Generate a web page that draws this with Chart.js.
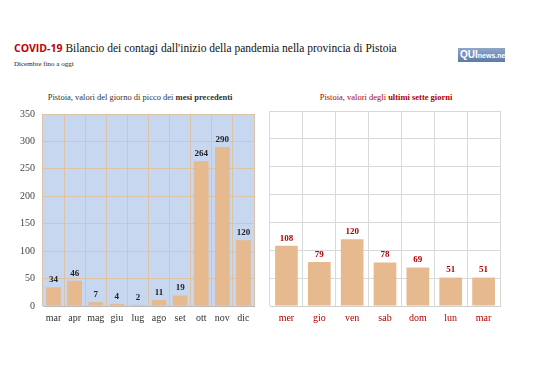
<!DOCTYPE html>
<html><head><meta charset="utf-8">
<script src="https://cdn.jsdelivr.net/npm/chart.js@4"></script>
<style>
body{margin:0;width:538px;height:380px;background:#fff;position:relative;overflow:hidden;font-family:"Liberation Serif",serif}
#t{position:absolute;left:14px;top:41px;font-size:11.5px;color:#111;white-space:nowrap}
#t b{font-family:"Open Sans",sans-serif;color:#c00000;font-size:10.5px;font-weight:700}
#s{position:absolute;left:14px;top:60px;font-size:7px;color:#222}
#logo{position:absolute;left:458px;top:48px;width:47px;height:14px;background:linear-gradient(#8fa6c9,#5d7aa8);color:#fff;font-family:"Liberation Sans",sans-serif;font-size:10px;font-weight:700;line-height:14px;padding-left:2px;box-sizing:border-box;overflow:hidden;white-space:nowrap}
#logo span{font-size:7px}
#lt{position:absolute;left:0;width:280px;top:92px;text-align:center;font-size:8.5px;color:#333}
#rt{position:absolute;left:270px;width:232px;top:92px;text-align:center;font-size:8.5px;color:#b00000}
#c1{position:absolute;left:0;top:100px}
#c2{position:absolute;left:265px;top:100px}
</style></head><body>
<div id="t"><b>COVID-19</b> Bilancio dei contagi dall'inizio della pandemia nella provincia di Pistoia</div>
<div id="s">Dicembre fino a oggi</div>
<div id="logo">QUI<span>news.net</span></div>
<div id="lt">Pistoia, valori del giorno di picco dei <b>mesi precedenti</b></div>
<div id="rt">Pistoia, valori degli <b>ultimi sette giorni</b></div>
<canvas id="c1" width="262" height="230"></canvas>
<canvas id="c2" width="273" height="230"></canvas>
<script>
const months = ['mar','apr','mag','giu','lug','ago','set','ott','nov','dic'];
const monthPeaks = [34,46,7,4,2,11,19,264,290,120];
const days = ['mer','gio','ven','sab','dom','lun','mar'];
const dayValues = [108,79,120,78,69,51,51];
const yTicks = [0,50,100,150,200,250,300,350];

const BAR = '#e6b98f';
const FONT = '"Liberation Serif", serif';

function labelsPlugin(color){
  return {id:'vl',afterDatasetsDraw(chart){
    const ctx=chart.ctx, meta=chart.getDatasetMeta(0), data=chart.data.datasets[0].data;
    ctx.save();ctx.font='bold 9px '+FONT;ctx.fillStyle=color;ctx.textAlign='center';ctx.textBaseline='bottom';
    meta.data.forEach((b,i)=>ctx.fillText(String(data[i]),b.x,b.y-3));
    ctx.restore();
  }};
}
function bgPlugin(color){
  return {id:'bg',beforeDraw(chart){
    if(!color)return;const a=chart.chartArea,ctx=chart.ctx;ctx.save();ctx.fillStyle=color;ctx.fillRect(a.left,a.top,a.right-a.left,a.bottom-a.top);ctx.restore();
  }};
}

new Chart(document.getElementById('c1'),{
  type:'bar',
  data:{labels:months,datasets:[{data:monthPeaks,backgroundColor:BAR,categoryPercentage:0.7,barPercentage:1}]},
  options:{responsive:false,animation:false,
    layout:{padding:{left:0,right:8,top:13,bottom:0}},
    plugins:{legend:{display:false},tooltip:{enabled:false}},
    scales:{
      x:{grid:{color:'#dcc3a6',offset:true,drawTicks:false},border:{color:'#b9b9b9'},
        ticks:{color:'#333',font:{family:FONT,size:10},padding:6,maxRotation:0,minRotation:0,autoSkip:false},
        afterFit:s=>{s.height=24;}},
      y:{min:0,max:350,afterBuildTicks:s=>{s.ticks=yTicks.map(v=>({value:v}));},
        grid:{color:'#dcc3a6',drawTicks:false},border:{display:false},
        ticks:{color:'#444',font:{family:FONT,size:10},padding:8},
        afterFit:s=>{s.width=43;}}
    }},
  plugins:[bgPlugin('#c7d7f0'),labelsPlugin('#222')]
});

new Chart(document.getElementById('c2'),{
  type:'bar',
  data:{labels:days,datasets:[{data:dayValues,backgroundColor:BAR,categoryPercentage:0.69,barPercentage:1}]},
  options:{responsive:false,animation:false,
    layout:{padding:{left:5,right:38,top:11,bottom:0}},
    plugins:{legend:{display:false},tooltip:{enabled:false}},
    scales:{
      x:{grid:{color:'#d9d9d9',offset:true,drawTicks:false},border:{color:'#d0d0d0'},
        ticks:{color:'#b00000',font:{family:FONT,size:10},padding:6,maxRotation:0,minRotation:0,autoSkip:false},
        afterFit:s=>{s.height=24;}},
      y:{min:0,max:350,afterBuildTicks:s=>{s.ticks=yTicks.map(v=>({value:v}));},
        grid:{color:'#d9d9d9',drawTicks:false},border:{display:false},
        ticks:{display:false},
        afterFit:s=>{s.width=0;}}
    }},
  plugins:[labelsPlugin('#b00000')]
});
</script>
</body></html>
